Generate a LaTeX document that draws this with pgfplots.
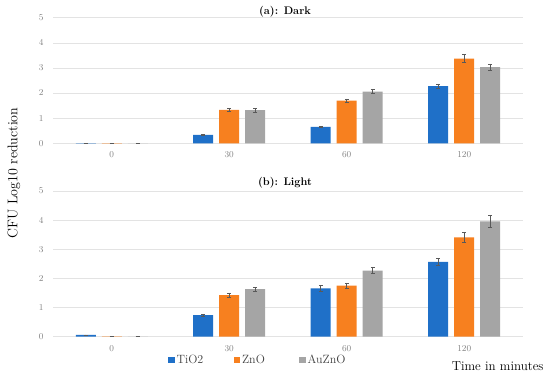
\documentclass[border=0pt]{standalone}
\usepackage{pgfplots}
\pgfplotsset{compat=1.18}
\definecolor{cblue}{HTML}{1F70C8}
\definecolor{corange}{HTML}{F7801F}
\definecolor{cgray}{HTML}{A5A5A5}
\definecolor{tickgray}{HTML}{808080}
\definecolor{gridgray}{HTML}{E3E3E3}
\definecolor{errgray}{HTML}{595959}
\definecolor{legtext}{HTML}{404040}
\begin{document}
\begin{tikzpicture}
\path[use as bounding box] (0pt,0pt) rectangle (550pt,-377pt);
\pgfplotsset{
  myax/.style={
    scale only axis, width=470pt,
    xmin=-0.5, xmax=3.5, ymin=0, ymax=5,
    ybar=6pt, bar width=20pt,
    ytick={0,1,2,3,4,5},
    xtick={0,1,2,3}, xticklabels={0,30,60,120},
    axis line style={draw=none},
    major tick length=0pt,
    ymajorgrids, grid style={gridgray, line width=0.6pt},
    tick label style={font=\small, text=tickgray},
    xticklabel style={yshift=-5pt},
    yticklabel style={xshift=-6pt},
    clip=false,
  },
  errstyle/.style={error bars/.cd, y dir=both, y explicit,
    error bar style={errgray, line width=0.5pt},
    error mark options={rotate=90, mark size=1.8pt, errgray, line width=0.5pt},
    /pgfplots/.cd},
}
% (a) Dark
\begin{axis}[myax, at={(53pt,-143.3pt)}, anchor=south west, height=125.6pt,
  legend image code/.code={\fill[#1] (0pt,-3.2pt) rectangle (6.5pt,3.2pt);},
  legend style={at={(0.238,-1.725)}, anchor=west, draw=none, fill=none,
    legend columns=3, font=\fontsize{12}{14}\selectfont, text=legtext,
    /tikz/every even column/.append style={column sep=0pt}},
  legend cell align=left]
\addplot[fill=cblue, draw=none, errstyle] coordinates {
 (0,0.01) +- (0,0) (1,0.34) +- (0,0.02) (2,0.65) +- (0,0.03) (3,2.28) +- (0,0.09)};
\addlegendentry{\makebox[55pt][l]{TiO2}}
\addplot[fill=corange, draw=none, errstyle] coordinates {
 (0,0.01) +- (0,0) (1,1.33) +- (0,0.07) (2,1.70) +- (0,0.07) (3,3.37) +- (0,0.16)};
\addlegendentry{\makebox[55pt][l]{ZnO}}
\addplot[fill=cgray, draw=none, errstyle] coordinates {
 (0,0) +- (0,0) (1,1.32) +- (0,0.07) (2,2.06) +- (0,0.08) (3,3.03) +- (0,0.13)};
\addlegendentry{AuZnO}
\end{axis}
% (b) Light
\begin{axis}[myax, at={(53pt,-336.7pt)}, anchor=south west, height=145.7pt]
\addplot[fill=cblue, draw=none, errstyle] coordinates {
 (0,0.06) +- (0,0) (1,0.74) +- (0,0.03) (2,1.66) +- (0,0.09) (3,2.57) +- (0,0.13)};
\addplot[fill=corange, draw=none, errstyle] coordinates {
 (0,0.01) +- (0,0) (1,1.43) +- (0,0.07) (2,1.75) +- (0,0.09) (3,3.41) +- (0,0.17)};
\addplot[fill=cgray, draw=none, errstyle] coordinates {
 (0,0) +- (0,0) (1,1.63) +- (0,0.07) (2,2.27) +- (0,0.10) (3,3.96) +- (0,0.20)};
\end{axis}
\node[font=\bfseries\fontsize{11}{13}\selectfont] at (285pt,-12pt) {(a): Dark};
\node[font=\bfseries\fontsize{11}{13}\selectfont] at (285pt,-183pt) {(b): Light};
\node[rotate=90, font=\fontsize{14}{16}\selectfont] at (14pt,-173pt) {CFU Log10 reduction};
\node[font=\fontsize{13}{15}\selectfont, anchor=east] at (547pt,-366pt) {Time in minutes};
\end{tikzpicture}
\end{document}
